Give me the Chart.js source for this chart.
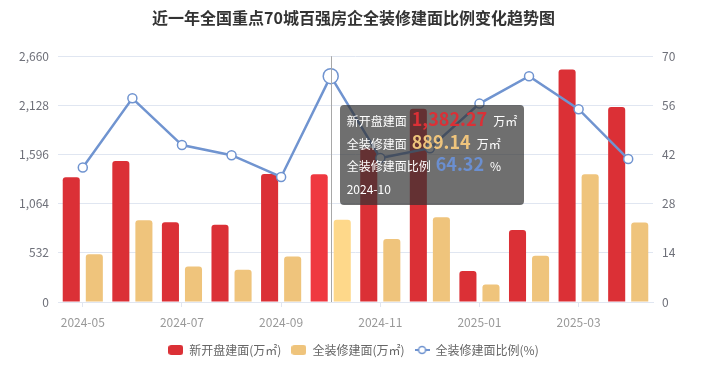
<!DOCTYPE html>
<html><head><meta charset="utf-8">
<script src="https://cdn.jsdelivr.net/npm/chart.js@4/dist/chart.umd.min.js"></script>
<style>
html,body{margin:0;padding:0;background:#fff;}
#wrap{position:relative;width:707px;height:378px;}
#tip{position:absolute;display:none;background:rgba(50,50,50,0.7);border-radius:4px;padding:5px 7px;color:#fff;font-family:"Noto Sans CJK SC",sans-serif;font-size:12px;line-height:22.5px;white-space:nowrap;pointer-events:none;}
#tip div{height:22.5px;}
#tip .v{font-size:18px;font-weight:bold;margin:0 6px 0 5px;line-height:10px;}
</style></head><body>
<div id="wrap"><canvas id="c" width="707" height="378"></canvas><div id="tip"></div></div>
<script>
const months = ['2024-05','2024-06','2024-07','2024-08','2024-09','2024-10','2024-11','2024-12','2025-01','2025-02','2025-03','2025-04'];
const newOpenArea = [1350, 1525, 862, 835, 1384, 1382.27, 1665, 2090, 335, 778, 2516, 2111];
const fullDecorArea = [517, 885, 385, 349, 492, 889.14, 683, 916, 189, 500, 1382, 859];
const decorRatio = [38.3, 58.0, 44.7, 41.8, 35.6, 64.32, 41.0, 43.8, 56.5, 64.3, 54.9, 40.7];
const areaTicks = [0, 532, 1064, 1596, 2128, 2660];
const ratioTicks = [0, 14, 28, 42, 56, 70];
const seriesNames = ['新开盘建面', '全装修建面', '全装修建面比例'];
const seriesUnits = ['万㎡', '万㎡', '%'];
const activeIndex = 5;

const FONT = '"Noto Sans CJK SC", "Noto Sans", sans-serif';
const RED = '#db3036', RED_H = '#ef3840';
const YEL = '#efc47c', YEL_H = '#fed88a';
const BLUE = '#7094d0';

function icon(kind, color){
  const cv = document.createElement('canvas');
  cv.width = 15; cv.height = 10;
  const g = cv.getContext('2d');
  if (kind === 'box') {
    g.fillStyle = color;
    g.beginPath();
    g.roundRect(0, 0, 15, 10, 3);
    g.fill();
  } else {
    g.strokeStyle = color; g.lineWidth = 2;
    g.beginPath(); g.moveTo(0, 5); g.lineTo(15, 5); g.stroke();
    g.fillStyle = '#fff'; g.lineWidth = 1.5;
    g.beginPath(); g.arc(7.5, 5, 3.5, 0, Math.PI*2); g.fill(); g.stroke();
  }
  return cv;
}
const legendIcons = [icon('box', RED), icon('box', YEL), icon('line', BLUE)];

const pointerPlugin = {
  id: 'pointer',
  afterDatasetsDraw(chart){
    const act = chart.getActiveElements();
    if (!act.length) return;
    const x = Math.round(chart.scales.x.getPixelForValue(act[0].index)) + 0.5;
    const {top, bottom} = chart.chartArea;
    const c = chart.ctx;
    c.save();
    c.strokeStyle = '#a8a8a8'; c.lineWidth = 1;
    c.beginPath(); c.moveTo(x, top); c.lineTo(x, bottom); c.stroke();
    c.restore();
  }
};

function fmt(v, d){ return v.toLocaleString('en-US', {minimumFractionDigits: d, maximumFractionDigits: d}); }

function externalTip(context){
  const {chart, tooltip} = context;
  const tip = document.getElementById('tip');
  if (tooltip.opacity === 0 || !tooltip.dataPoints || !tooltip.dataPoints.length) { tip.style.display = 'none'; return; }
  const i = tooltip.dataPoints[0].dataIndex;
  const vals = [newOpenArea[i], fullDecorArea[i], decorRatio[i]];
  const cols = [RED, YEL, '#6b8fd0'];
  let html = '';
  for (let k = 0; k < 3; k++) {
    html += '<div>' + seriesNames[k] + '<span class="v" style="color:' + cols[k] + '">' + fmt(vals[k], 2) + '</span>' + seriesUnits[k] + '</div>';
  }
  html += '<div>' + months[i] + '</div>';
  tip.innerHTML = html;
  tip.style.display = 'block';
  tip.style.left = (chart.scales.x.getPixelForValue(i) + 9) + 'px';
  tip.style.top = (chart.chartArea.top + 49) + 'px';
}

const chart = new Chart(document.getElementById('c'), {
  data: {
    labels: months,
    datasets: [
      { type: 'bar', label: seriesNames[0] + '(万㎡)', data: newOpenArea, yAxisID: 'y',
        backgroundColor: RED, hoverBackgroundColor: RED_H, borderWidth: 0,
        borderRadius: {topLeft: 3, topRight: 3, bottomLeft: 0, bottomRight: 0}, borderSkipped: 'start',
        categoryPercentage: 0.93, barPercentage: 0.74, order: 1 },
      { type: 'bar', label: seriesNames[1] + '(万㎡)', data: fullDecorArea, yAxisID: 'y',
        backgroundColor: YEL, hoverBackgroundColor: YEL_H, borderWidth: 0,
        borderRadius: {topLeft: 3, topRight: 3, bottomLeft: 0, bottomRight: 0}, borderSkipped: 'start',
        categoryPercentage: 0.93, barPercentage: 0.74, order: 1 },
      { type: 'line', label: seriesNames[2] + '(%)', data: decorRatio, yAxisID: 'y1',
        borderColor: BLUE, borderWidth: 2.5, backgroundColor: '#fff',
        pointBackgroundColor: '#fff', pointBorderColor: BLUE, pointBorderWidth: 1.5, pointRadius: 4.5,
        pointHoverRadius: 7.5, pointHoverBorderWidth: 1.5, pointHoverBackgroundColor: '#fff', pointHoverBorderColor: BLUE,
        tension: 0, order: 0 }
    ]
  },
  options: {
    responsive: false,
    animation: false,
    events: [],
    layout: { padding: { top: 0, bottom: 12, left: 0, right: 0 } },
    interaction: { mode: 'index', intersect: false },
    plugins: {
      title: { display: true, text: '近一年全国重点70城百强房企全装修建面比例变化趋势图',
        color: '#333', font: { size: 16, weight: 'bold', family: FONT }, padding: { top: 8, bottom: 29 } },
      legend: { position: 'bottom',
        labels: { usePointStyle: true, pointStyleWidth: 15, boxHeight: 10, padding: 10,
          color: '#666', font: { size: 12, family: FONT },
          generateLabels(chart){
            return chart.data.datasets.map((ds, i) => ({
              text: ds.label, pointStyle: legendIcons[i], fillStyle: 'transparent', strokeStyle: 'transparent',
              lineWidth: 0, hidden: false, datasetIndex: i, fontColor: '#666'
            }));
          } } },
      tooltip: { enabled: false, external: externalTip }
    },
    scales: {
      x: {
        offset: true,
        grid: { drawOnChartArea: false, drawTicks: true, tickLength: 5, offset: false,
          color: (c) => (c.index % 2 === 0 ? '#e0e6f1' : 'rgba(0,0,0,0)') },
        border: { color: '#e0e6f1' },
        ticks: { autoSkip: false, maxRotation: 0, color: '#999', padding: 8, font: { size: 12, family: FONT },
          callback(v, i){ return i % 2 === 0 ? this.getLabelForValue(v) : ''; } },
        afterFit(s){ s.height = 32; }
      },
      y: {
        position: 'left', min: 0, max: 2660,
        afterBuildTicks(s){ s.ticks = areaTicks.map(v => ({value: v})); },
        grid: { color: '#e0e6f1', drawTicks: false },
        border: { display: false },
        ticks: { color: '#6e7079', padding: 9, font: { size: 12, family: FONT } },
        afterFit(s){ s.width = 58; }
      },
      y1: {
        position: 'right', min: 0, max: 70,
        afterBuildTicks(s){ s.ticks = ratioTicks.map(v => ({value: v})); },
        grid: { drawOnChartArea: false, drawTicks: false },
        border: { display: false },
        ticks: { color: '#6e7079', padding: 9, font: { size: 12, family: FONT } },
        afterFit(s){ s.width = 54; }
      }
    }
  },
  plugins: [pointerPlugin]
});

const act = [0, 1, 2].map(d => ({datasetIndex: d, index: activeIndex}));
chart.setActiveElements(act);
chart.tooltip.setActiveElements(act, {x: chart.scales.x.getPixelForValue(activeIndex), y: chart.chartArea.top + 50});
chart.update();
</script>
</body></html>
